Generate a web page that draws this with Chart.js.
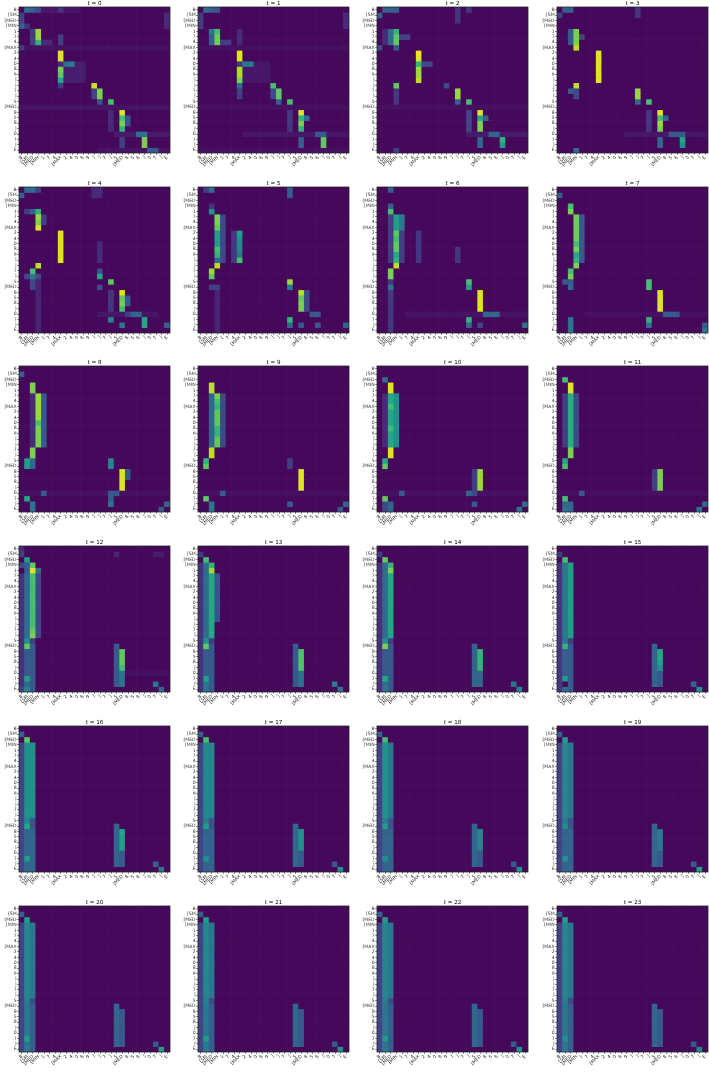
<!DOCTYPE html>
<html>
<head>
<meta charset="utf-8">
<script src="https://cdn.jsdelivr.net/npm/chart.js@4.4.1/dist/chart.umd.min.js"></script>
<style>
  body { margin: 0; background: #fff; }
  #page { position: relative; width: 709px; height: 1072px; overflow: hidden; }
  .panel { position: absolute; }
  .title { position: absolute; width: 151px; text-align: center; font: 5.6px "DejaVu Sans", sans-serif; color: #000; line-height: 6px; will-change: transform; }
</style>
</head>
<body>
<div id="page"></div>
<script>
// token labels (truncated as in the figure)
const tokens = ['B', '[SM', '[MED', '[MIN', '1', '7', '4', '[MAX', '2', '4', '0', '8', '9', ']', ']', '7', ']', '5', '[MED', '8', '5', '8', ']', '0', '7', ']', 'E'];
const steps = [0, 1, 2, 3, 4, 5, 6, 7, 8, 9, 10, 11, 12, 13, 14, 15, 16, 17, 18, 19, 20, 21, 22, 23];
const background = 0.02;

// attention blocks: [row0, row1, col0, col1, value]
const t0 = [[0,0,4,10,.06],[0,0,1,1,.35],[0,0,2,2,.3],[0,0,3,3,.22],[0,0,7,7,.15],[1,3,0,0,.2],[3,3,0,0,.3],[3,3,1,1,.15],[1,3,26,26,.12],
  [7,7,0,26,.045],[7,7,0,0,.18],[4,6,2,2,.18],[4,4,3,3,.85],[5,5,3,3,.85],[6,6,3,3,.65],[6,6,4,5,.12],[5,6,7,7,.18],
  [10,13,8,11,.08],[8,9,7,7,.95],[10,10,7,7,.12],[10,10,8,8,.35],[10,10,9,9,.42],[11,11,7,7,.8],[12,12,7,7,.75],[13,13,7,7,.6],[14,14,7,7,.18],
  [14,14,13,13,.93],[15,16,13,13,.2],[15,15,14,14,.8],[16,16,14,14,.8],[17,17,14,14,.25],[17,17,16,16,.7],[18,18,0,26,.05],
  [19,22,16,16,.12],[19,19,18,18,.95],[20,20,18,18,.7],[21,21,18,18,.8],[22,22,18,18,.65],[20,21,19,19,.25],
  [23,23,17,26,.07],[23,23,21,22,.38],[24,25,22,22,.8],[24,25,18,18,.18],[26,26,14,26,.05],[26,26,23,24,.28]];
const t1 = [[0,0,1,1,.35],[0,0,2,2,.3],[0,0,3,3,.25],[1,3,0,0,.18],[1,3,26,26,.12],[4,4,2,2,.4],[5,6,2,2,.3],[4,4,3,3,.7],[5,6,3,3,.78],
  [6,6,4,5,.18],[4,6,7,7,.12],[7,7,0,26,.04],[10,13,8,12,.06],[8,9,7,7,.95],[10,10,7,7,.15],[10,10,8,9,.4],[11,12,7,7,.88],[13,13,7,7,.8],
  [14,14,7,7,.35],[15,16,7,7,.18],[14,14,13,13,.7],[15,16,13,13,.22],[15,16,14,14,.75],[17,17,14,14,.3],[17,17,16,16,.7],[18,18,0,26,.045],
  [19,22,16,16,.16],[19,19,18,18,.95],[20,20,18,18,.65],[21,21,18,18,.8],[22,22,18,18,.65],[20,20,19,19,.35],[23,23,8,26,.06],[23,23,21,22,.28],
  [24,25,22,22,.75],[24,25,18,18,.3],[26,26,0,26,.04]];
const t2 = [[0,0,1,3,.3],[1,1,0,0,.3],[0,2,14,14,.15],[0,0,16,16,.15],[4,4,3,3,.65],[5,6,3,3,.75],[4,6,2,2,.35],[4,6,1,1,.12],[5,5,4,5,.2],
  [7,7,0,0,.22],[7,7,3,3,.28],[8,8,7,7,.97],[9,9,7,7,.95],[10,10,7,7,.65],[11,12,7,7,.85],[13,13,7,7,.9],[10,10,8,9,.22],
  [14,14,3,3,.75],[14,14,12,12,.22],[15,17,3,3,.16],[15,16,14,14,.85],[17,17,14,14,.3],[17,17,16,16,.7],[18,18,0,26,.04],
  [19,22,16,16,.2],[19,19,18,18,.95],[20,20,18,18,.6],[21,22,18,18,.8],[20,20,19,19,.32],[23,23,16,26,.07],[23,23,20,21,.32],
  [24,24,22,22,.65],[25,25,22,22,.55],[24,25,18,18,.33],[26,26,3,3,.18]];
const t3 = [[0,0,1,2,.3],[1,1,0,0,.2],[0,1,14,14,.15],[4,6,3,3,.8],[7,7,3,3,.9],[4,6,2,2,.28],[5,5,4,4,.22],[8,13,7,7,.95],
  [14,14,3,3,.9],[15,15,2,2,.28],[15,16,3,3,.22],[15,16,14,14,.85],[17,17,14,14,.35],[17,17,16,16,.7],
  [19,22,16,16,.16],[19,19,18,18,.95],[20,20,18,18,.7],[21,21,18,18,.85],[22,22,18,18,.8],[20,20,19,19,.33],
  [23,23,12,26,.06],[23,23,20,22,.28],[24,24,22,22,.6],[25,25,22,22,.5],[24,25,18,18,.33],[26,26,3,3,.33]];
const t4 = [[0,0,1,2,.35],[0,0,3,3,.18],[1,1,0,0,.3],[0,1,13,14,.12],[4,4,1,1,.18],[4,4,2,2,.3],[4,4,3,3,.65],[5,5,3,3,.85],[6,6,3,3,.8],
  [7,7,3,3,.95],[5,6,4,4,.18],[8,13,7,7,.95],[10,13,14,14,.12],[14,14,3,3,.9],[17,26,3,3,.1],[15,15,2,2,.7],[16,16,1,3,.22],[16,16,2,2,.4],
  [15,15,14,14,.25],[16,16,14,14,.6],[17,17,2,2,.22],[17,17,16,16,.75],[18,18,2,2,.22],[18,18,14,14,.22],
  [19,22,16,16,.16],[19,19,18,18,.95],[20,20,18,18,.75],[21,21,18,18,.8],[22,22,18,18,.7],[20,21,19,19,.28],
  [23,23,14,24,.06],[23,23,19,19,.18],[23,23,20,21,.33],[24,25,22,22,.6],[24,24,16,16,.45],[25,25,18,18,.38],[25,25,26,26,.33]];
const t5 = [[0,0,2,2,.35],[0,0,1,1,.18],[0,1,16,16,.28],[3,3,2,2,.14],[4,4,2,2,.5],[5,13,4,4,.22],[5,6,3,3,.8],[7,7,3,3,.75],[8,10,3,3,.55],
  [11,11,3,3,.7],[12,12,3,3,.65],[13,13,3,3,.35],[8,13,6,6,.16],[8,8,7,7,.55],[9,9,7,7,.5],[10,11,7,7,.45],[12,12,7,7,.4],[13,13,7,7,.7],
  [14,14,3,3,.9],[19,26,3,3,.1],[15,15,2,2,.85],[16,16,2,2,.75],[17,17,16,16,.85],[18,18,16,16,.4],[18,18,2,3,.18],
  [19,22,19,19,.22],[19,19,18,18,.9],[20,20,18,18,.75],[21,22,18,18,.8],[23,23,20,21,.28],
  [24,24,16,16,.65],[25,25,16,16,.35],[25,25,18,18,.28],[25,25,21,21,.28],[25,25,26,26,.33]];
const t6 = [[0,0,2,2,.3],[3,3,2,2,.3],[4,4,2,2,.7],[5,13,2,2,.18],[5,7,4,4,.4],[8,13,4,4,.18],[5,7,3,3,.55],[8,8,3,3,.75],[9,9,3,3,.7],
  [10,11,3,3,.75],[12,12,3,3,.6],[13,13,3,3,.65],[14,14,3,3,.9],[8,13,7,7,.16],[11,13,14,14,.16],[17,26,2,2,.16],[15,16,2,2,.8],
  [17,17,16,16,.7],[18,18,16,16,.55],[18,18,2,2,.4],[19,22,18,18,.95],[23,23,5,26,.05],[23,23,19,21,.33],
  [24,24,16,16,.65],[25,25,16,16,.35],[25,25,18,18,.22],[25,25,26,26,.38]];
const t7 = [[1,1,0,0,.3],[3,3,2,2,.7],[4,4,2,2,.8],[5,13,4,4,.28],[5,9,3,3,.78],[10,10,3,3,.7],[11,11,3,3,.8],[12,12,3,3,.6],[13,13,3,3,.65],
  [14,14,3,3,.8],[15,15,2,2,.7],[16,16,2,2,.8],[17,17,1,2,.28],[17,17,16,16,.7],[18,18,16,16,.7],[18,18,2,2,.33],[19,22,18,18,.95],
  [23,23,5,26,.045],[23,23,19,21,.28],[24,24,16,16,.65],[25,25,16,16,.38],[24,26,2,2,.38],[26,26,26,26,.38],[25,25,26,26,.28]];
const t8 = [[1,1,0,0,.3],[3,4,2,2,.8],[5,14,4,4,.28],[5,14,2,2,.12],[5,9,3,3,.85],[10,10,3,3,.7],[11,14,3,3,.8],[15,16,2,2,.8],
  [17,18,1,1,.55],[17,18,2,2,.33],[17,18,16,16,.45],[19,22,18,18,.95],[19,20,19,19,.28],[23,23,0,26,.045],[23,23,4,4,.28],[23,23,16,17,.28],
  [24,24,1,1,.6],[24,24,16,16,.28],[25,26,2,2,.38],[25,25,16,16,.38],[25,25,26,26,.33],[26,26,25,25,.28]];
const t9 = [[3,4,2,2,.9],[5,14,2,2,.33],[5,14,4,4,.22],[5,5,3,3,.8],[6,6,3,3,.7],[7,7,3,3,.65],[8,10,3,3,.75],[11,12,3,3,.65],[13,14,3,3,.75],
  [15,16,2,2,.9],[17,17,1,1,.65],[18,18,1,1,.75],[17,18,16,16,.18],[19,22,18,18,.95],[23,23,0,26,.04],[23,23,4,4,.28],
  [24,24,1,1,.75],[25,26,2,2,.38],[25,25,16,16,.28],[25,25,26,26,.33],[26,26,25,25,.28]];
const t10 = [[2,2,1,1,.35],[3,4,2,2,.95],[5,14,2,2,.6],[5,14,3,3,.5],[7,7,2,2,.7],[11,11,2,2,.68],[5,14,1,1,.12],[15,16,2,2,.95],
  [17,17,1,1,.6],[18,18,1,1,.75],[19,22,17,17,.18],[19,22,18,18,.85],[23,23,0,26,.045],[23,23,4,4,.28],[23,23,16,16,.33],[23,23,17,17,.22],
  [24,24,1,1,.75],[25,26,2,2,.33],[25,26,1,1,.22],[25,25,17,17,.28],[25,25,26,26,.33],[26,26,25,25,.38]];
const t11 = [[2,2,1,1,.7],[3,4,2,2,.95],[5,14,1,1,.18],[5,14,2,2,.62],[5,14,3,3,.22],[15,16,2,2,.8],[17,17,1,1,.6],[18,18,1,1,.7],
  [19,22,17,17,.18],[19,22,18,18,.8],[23,23,0,26,.04],[23,23,4,4,.28],[24,24,1,1,.7],[25,26,1,2,.33],[26,26,1,1,.38],
  [25,25,26,26,.33],[26,26,25,25,.38]];
const t12 = [[0,0,0,0,.12],[1,1,0,0,.18],[1,1,17,17,.1],[1,1,24,25,.08],[2,2,1,1,.55],[3,3,0,0,.22],[3,3,1,1,.3],[3,3,2,2,.75],
  [4,4,2,2,.95],[4,4,1,1,.3],[4,4,3,3,.35],[5,26,0,0,.14],[5,16,1,1,.35],[5,16,3,3,.22],[5,14,2,2,.7],[15,15,2,2,.75],[16,16,2,2,.8],
  [17,17,1,1,.5],[17,26,2,2,.28],[17,17,2,2,.18],[18,18,1,1,.75],[19,23,1,1,.28],[18,25,17,17,.28],[19,21,18,18,.75],[22,22,18,18,.7],[23,25,18,18,.38],
  [23,23,19,26,.04],[24,24,1,1,.55],[25,25,1,1,.35],[26,26,1,1,.45],[26,26,0,0,.2],[25,25,24,24,.38],[26,26,25,25,.33]];
const t13 = [[1,1,0,0,.18],[2,2,1,1,.7],[3,26,0,0,.14],[3,16,1,1,.35],[3,3,2,2,.65],[4,4,2,2,.85],[5,16,2,2,.6],[5,13,3,3,.26],
  [17,17,1,1,.5],[18,18,1,1,.75],[17,26,2,2,.28],[17,17,2,2,.18],[19,23,1,1,.28],[18,25,17,17,.28],[19,22,18,18,.72],[23,25,18,18,.38],
  [24,24,1,1,.55],[25,26,1,1,.38],[25,25,24,24,.42],[26,26,25,25,.38]];
const t14 = [[1,1,0,0,.18],[2,2,1,1,.75],[3,26,0,0,.14],[3,16,1,1,.35],[3,3,2,2,.65],[4,4,2,2,.8],[5,16,2,2,.6],
  [17,17,1,1,.5],[18,18,1,1,.8],[17,26,2,2,.28],[17,17,2,2,.18],[19,23,1,1,.28],[18,25,17,17,.32],[19,22,18,18,.65],[23,25,18,18,.33],
  [24,24,1,1,.6],[25,26,1,1,.38],[25,25,24,24,.38],[26,26,25,25,.45]];
const t15 = [[1,1,0,0,.18],[2,2,1,1,.7],[3,26,0,0,.16],[3,16,1,1,.4],[3,16,2,2,.55],[17,17,1,1,.4],[18,18,1,1,.65],[17,26,2,2,.28],[17,17,2,2,.18],
  [19,23,1,1,.3],[18,25,17,17,.33],[19,20,18,18,.6],[21,21,18,18,.55],[22,22,18,18,.5],[23,25,18,18,.28],
  [24,24,1,1,.55],[26,26,1,1,.35],[25,25,24,24,.33],[26,26,25,25,.5]];
const t16 = [[1,1,0,0,.3],[2,2,1,1,.75],[3,26,0,0,.2],[3,16,1,2,.5],[17,17,1,1,.45],[17,18,2,2,.25],[18,18,1,1,.6],[19,26,1,2,.33],
  [24,24,1,1,.55],[18,25,17,17,.33],[19,19,18,18,.6],[20,22,18,18,.55],[23,25,18,18,.28],[25,25,24,24,.3],[26,26,25,25,.4]];
const t17 = [[1,1,0,0,.3],[2,2,1,1,.7],[3,26,0,0,.2],[3,16,1,2,.45],[17,17,1,1,.42],[17,18,2,2,.25],[18,18,1,1,.55],[19,26,1,2,.32],[24,24,1,1,.5],
  [18,25,17,17,.33],[19,22,18,18,.5],[23,25,18,18,.28],[25,25,24,24,.28],[26,26,25,25,.5]];
const t18 = [[1,1,0,0,.3],[2,2,1,1,.7],[3,26,0,0,.2],[3,16,1,1,.5],[3,16,2,2,.4],[17,17,1,1,.42],[17,18,2,2,.25],[18,18,1,1,.55],[19,26,1,2,.32],
  [24,24,1,1,.5],[18,25,17,17,.33],[19,22,18,18,.45],[23,25,18,18,.28],[25,25,24,24,.28],[26,26,25,25,.5]];
const t19 = [[1,1,0,0,.3],[2,2,1,1,.55],[3,26,0,0,.2],[3,16,1,1,.45],[3,16,2,2,.4],[17,17,1,1,.42],[17,18,2,2,.25],[18,18,1,1,.5],[19,26,1,2,.32],
  [24,24,1,1,.5],[18,25,17,17,.33],[19,22,18,18,.4],[23,25,18,18,.28],[25,25,24,24,.28],[26,26,25,25,.55]];
const t20 = [[1,1,0,0,.3],[2,2,1,1,.55],[3,26,0,0,.2],[3,16,1,1,.45],[3,16,2,2,.4],[17,17,1,1,.42],[17,17,2,2,.22],[18,26,1,1,.4],[18,26,2,2,.3],
  [24,24,1,1,.55],[18,25,17,17,.33],[19,25,18,18,.28],[25,25,24,24,.28],[26,26,25,25,.55]];
const t21 = [[1,1,0,0,.3],[2,2,1,1,.55],[3,26,0,0,.2],[3,16,1,1,.45],[3,16,2,2,.4],[17,17,1,1,.42],[17,17,2,2,.22],[18,26,1,1,.4],[18,26,2,2,.3],
  [24,24,1,1,.55],[18,25,17,17,.33],[19,25,18,18,.28],[25,25,24,24,.28],[26,26,25,25,.5]];
const t22 = [[1,1,0,0,.3],[2,2,1,1,.55],[3,26,0,0,.2],[3,16,1,1,.45],[3,16,2,2,.4],[17,17,1,1,.42],[17,17,2,2,.22],[18,26,1,1,.4],[18,26,2,2,.3],
  [24,24,1,1,.55],[18,25,17,17,.33],[19,25,18,18,.28],[25,25,24,24,.28],[26,26,25,25,.5]];
const t23 = [[1,1,0,0,.3],[2,2,1,1,.55],[3,26,0,0,.2],[3,16,1,1,.45],[3,16,2,2,.4],[17,17,1,1,.42],[17,17,2,2,.22],[18,26,1,1,.4],[18,26,2,2,.3],
  [24,24,1,1,.5],[18,25,17,17,.33],[19,25,18,18,.28],[25,25,24,24,.28],[26,26,25,25,.45]];
const panels = [t0, t1, t2, t3, t4, t5, t6, t7, t8, t9, t10, t11, t12, t13, t14, t15, t16, t17, t18, t19, t20, t21, t22, t23];

// layout of the 6 x 4 grid of plot areas
const plotLefts = [18.5, 197.8, 377.2, 556.5];
const plotTops = [6.5, 186.5, 366.3, 546.2, 726.1, 906];
const plotW = 151, plotH = 146;

const viridisStops = ['#440154', '#482475', '#414487', '#355f8d', '#2a788e', '#21918c', '#22a884', '#44bf70', '#7ad151', '#bddf26', '#fde725'];

function hexToRgb(h) {
    return [parseInt(h.slice(1, 3), 16), parseInt(h.slice(3, 5), 16), parseInt(h.slice(5, 7), 16)];
}

function viridis(v) {
    let x = Math.max(0, Math.min(1, v)) * 10;
    let i = Math.min(9, Math.floor(x));
    let f = x - i;
    let a = hexToRgb(viridisStops[i]), b = hexToRgb(viridisStops[i + 1]);
    let c = a.map((ai, k) => Math.round(ai + (b[k] - ai) * f));
    return 'rgb(' + c.join(',') + ')';
}

function buildMatrix(blocks) {
    let m = tokens.map(() => tokens.map(() => background));
    blocks.forEach(function ([r0, r1, c0, c1, v]) {
        for (let r = r0; r <= r1; r++) {
            for (let c = c0; c <= c1; c++) m[r][c] = v;
        }
    });
    return m;
}

const framePlugin = {
    id: 'frame',
    afterDraw: function (chart) {
        let a = chart.chartArea, ctx = chart.ctx;
        ctx.save();
        ctx.strokeStyle = '#262626';
        ctx.lineWidth = 0.8;
        ctx.strokeRect(a.left, a.top, a.right - a.left, a.bottom - a.top);
        ctx.restore();
    }
};

const tickFont = { family: 'DejaVu Sans', size: 4.6 };

let page = document.getElementById('page');

panels.forEach(function (blocks, p) {
    let col = p % 4, row = Math.floor(p / 4);
    let L = plotLefts[col], T = plotTops[row];
    let matrix = buildMatrix(blocks);

    let title = document.createElement('div');
    title.className = 'title';
    title.style.left = L + 'px';
    title.style.top = (T - 7) + 'px';
    title.innerHTML = '<i>t</i> = ' + steps[p];
    page.appendChild(title);

    let canvas = document.createElement('canvas');
    canvas.className = 'panel';
    canvas.width = 22 + plotW + 8;
    canvas.height = 5 + plotH + 25;
    canvas.style.left = (L - 22) + 'px';
    canvas.style.top = (T - 5) + 'px';
    page.appendChild(canvas);

    let chart = new Chart(canvas.getContext('2d'), {
        type: 'bar',
        data: {
            labels: tokens,
            datasets: matrix.map(function (rowVals, r) {
                return {
                    data: rowVals.map(() => [r - 0.5, r + 0.5]),
                    backgroundColor: rowVals.map(viridis),
                    borderWidth: 0,
                    grouped: false,
                    categoryPercentage: 1,
                    barPercentage: 1
                };
            })
        },
        options: {
            responsive: false,
            animation: false,
            events: [],
            layout: { padding: { top: 5, right: 8, left: 0, bottom: 0 } },
            plugins: { legend: { display: false }, tooltip: { enabled: false }, title: { display: false } },
            scales: {
                x: {
                    type: 'category',
                    offset: true,
                    grid: { offset: false, drawOnChartArea: false, tickLength: 1.8, color: '#333', lineWidth: 0.6 },
                    border: { display: false },
                    ticks: { autoSkip: false, maxRotation: 45, minRotation: 45, font: tickFont, color: '#333', padding: 0 },
                    afterFit: function (s) { s.height = 25; }
                },
                y: {
                    type: 'linear',
                    min: -0.5,
                    max: 26.5,
                    reverse: true,
                    afterBuildTicks: function (s) { s.ticks = tokens.map((t, i) => ({ value: i })); },
                    grid: { drawOnChartArea: false, tickLength: 1.8, color: '#333', lineWidth: 0.6 },
                    border: { display: false },
                    ticks: { autoSkip: false, font: tickFont, color: '#333', padding: 0.6, callback: (v) => tokens[v] },
                    afterFit: function (s) { s.width = 22; }
                }
            }
        },
        plugins: [framePlugin]
    });

    // put the drawn chart area exactly on the reference plot box
    let a = chart.chartArea;
    canvas.style.left = (L - a.left) + 'px';
    canvas.style.top = (T - a.top) + 'px';
});
</script>
</body>
</html>
